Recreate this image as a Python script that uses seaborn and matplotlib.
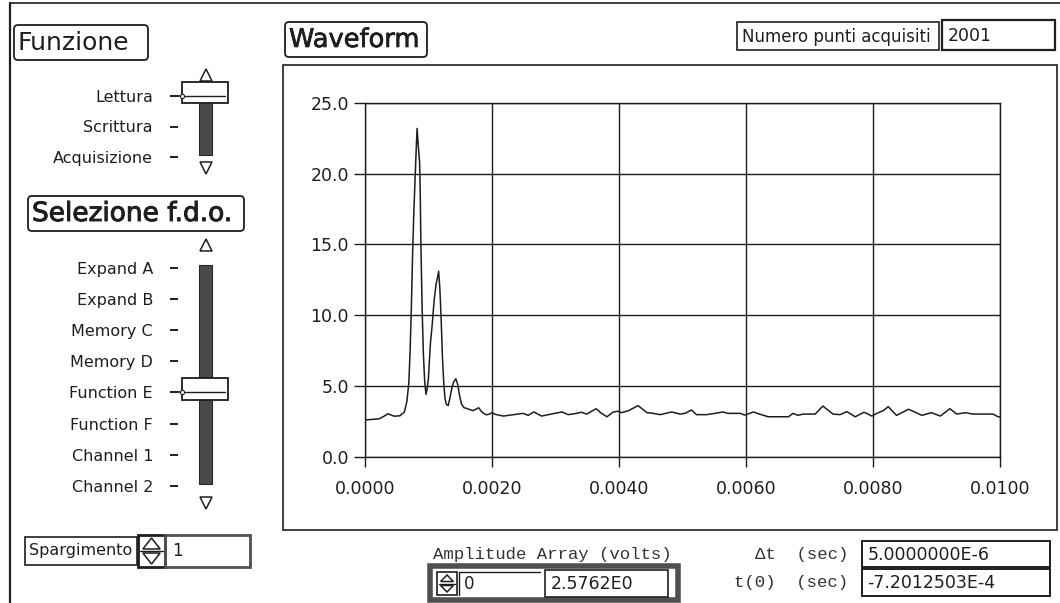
import matplotlib
matplotlib.use("Agg")
import matplotlib.pyplot as plt
from matplotlib.patches import Rectangle, FancyBboxPatch, Polygon
from matplotlib.ticker import FormatStrFormatter
import matplotlib.patheffects as pe
import pandas as pd
import seaborn as sns

# ---- acquired waveform (time in seconds, amplitude in volts) ----
time_s = [
    0.00000, 0.00010, 0.00022, 0.00030, 0.00036, 0.00046, 0.00055, 0.00062,
    0.00066, 0.00069, 0.00071, 0.00073, 0.00075, 0.00077, 0.00079, 0.00080,
    0.00082, 0.00084, 0.00086, 0.00087, 0.00088, 0.00090, 0.00092, 0.00094,
    0.00096, 0.00098, 0.00100, 0.00103, 0.00106, 0.00109, 0.00112, 0.00114,
    0.00116, 0.00118, 0.00120, 0.00122, 0.00124, 0.00126, 0.00128, 0.00131,
    0.00134, 0.00137, 0.00140, 0.00143, 0.00146, 0.00149, 0.00152, 0.00156,
    0.00160, 0.00166, 0.00170, 0.00175, 0.00179, 0.00183, 0.00187, 0.00191,
    0.00196, 0.00200, 0.00205, 0.00218, 0.00234, 0.00249, 0.00257, 0.00266,
    0.00278, 0.00291, 0.00310, 0.00320, 0.00333, 0.00341, 0.00349, 0.00364,
    0.00371, 0.00381, 0.00391, 0.00399, 0.00404, 0.00415, 0.00430, 0.00444,
    0.00454, 0.00465, 0.00483, 0.00496, 0.00504, 0.00514, 0.00522, 0.00538,
    0.00551, 0.00563, 0.00572, 0.00591, 0.00598, 0.00612, 0.00619, 0.00635,
    0.00667, 0.00674, 0.00682, 0.00690, 0.00709, 0.00721, 0.00737, 0.00748,
    0.00759, 0.00772, 0.00786, 0.00793, 0.00798, 0.00806, 0.00816, 0.00824,
    0.00837, 0.00856, 0.00877, 0.00892, 0.00906, 0.00921, 0.00932, 0.00945,
    0.00958, 0.00989, 0.00997, 0.01000,
]
volts = [
    2.58, 2.62, 2.66, 2.85, 3.02, 2.85, 2.88, 3.15,
    3.90, 5.20, 7.40, 10.50, 14.40, 17.40, 19.80, 21.00,
    23.20, 21.90, 20.80, 18.60, 15.10, 10.40, 7.20, 5.30,
    4.40, 4.80, 5.60, 8.00, 9.40, 11.10, 12.20, 12.60,
    13.10, 11.80, 9.60, 7.00, 5.20, 4.10, 3.70, 3.60,
    4.20, 4.90, 5.30, 5.50, 5.10, 4.30, 3.70, 3.45,
    3.40, 3.30, 3.25, 3.35, 3.45, 3.20, 3.05, 2.95,
    3.00, 3.10, 2.98, 2.86, 2.96, 3.05, 2.91, 3.15,
    2.86, 2.98, 3.15, 2.96, 3.05, 3.13, 3.00, 3.38,
    3.10, 2.81, 3.15, 3.20, 3.10, 3.24, 3.60, 3.10,
    3.05, 2.96, 3.15, 3.00, 3.05, 3.29, 2.96, 2.96,
    3.05, 3.15, 3.05, 3.05, 2.93, 3.15, 3.03, 2.81,
    2.81, 3.05, 2.91, 3.00, 3.00, 3.57, 3.00, 2.96,
    3.17, 2.81, 3.13, 2.98, 2.86, 3.05, 3.24, 3.52,
    2.91, 3.34, 2.91, 3.10, 2.86, 3.38, 3.00, 3.10,
    3.00, 3.00, 2.81, 2.80,
]

x_ticks = [0.0, 0.002, 0.004, 0.006, 0.008, 0.010]
y_ticks = [0.0, 5.0, 10.0, 15.0, 20.0, 25.0]

# ---- front-panel controls ----
funzione_options = ["Lettura", "Scrittura", "Acquisizione"]
funzione_selected = 0
fdo_options = ["Expand A", "Expand B", "Memory C", "Memory D",
               "Function E", "Function F", "Channel 1", "Channel 2"]
fdo_selected = 4

n_points = "2001"
spargimento = "1"
array_index = "0"
array_value = "2.5762E0"
delta_t = "5.0000000E-6"
t_zero = "-7.2012503E-4"

W, H = 1060, 603
INK = "#1e1e1e"
GREY = "#505050"

sns.set_theme(style="white")
plt.rcParams["font.family"] = ["DejaVu Sans"]
plt.rcParams["text.color"] = INK

fig = plt.figure(figsize=(W / 100, H / 100), dpi=100)
fig.patch.set_facecolor("white")


def frac(x0, y0, x1, y1):
    return [x0 / W, 1 - y1 / H, (x1 - x0) / W, (y1 - y0) / H]


# panel canvas in pixel units (y grows downward)
panel = fig.add_axes([0, 0, 1, 1])
panel.set_xlim(0, W)
panel.set_ylim(H, 0)
panel.axis("off")


def rect(x0, y0, x1, y1, lw=1.2, ec=INK, fc="none", z=2):
    panel.add_patch(Rectangle((x0, y0), x1 - x0, y1 - y0, lw=lw, ec=ec, fc=fc, zorder=z))


def rounded(x0, y0, x1, y1, lw=1.3):
    panel.add_patch(FancyBboxPatch((x0, y0), x1 - x0, y1 - y0,
                                   boxstyle="round,pad=0,rounding_size=4",
                                   lw=lw, ec=INK, fc="white", zorder=2))


def spinner(x0, y0, x1, y1, lw=1.2):
    rect(x0, y0, x1, y1, lw=lw)
    xm = (x0 + x1) / 2
    ym = (y0 + y1) / 2
    hw = (x1 - x0) * 0.32
    panel.plot([x0 + 2, x1 - 2], [ym, ym], color=INK, lw=1)
    panel.add_patch(Polygon([[xm - hw, ym - 2], [xm + hw, ym - 2], [xm, y0 + 3]],
                            closed=True, fc="white", ec=INK, lw=1.1, zorder=3))
    panel.add_patch(Polygon([[xm - hw, ym + 2], [xm + hw, ym + 2], [xm, y1 - 3]],
                            closed=True, fc="white", ec=INK, lw=1.1, zorder=3))


# outer panel edges
panel.plot([10, 10], [3, H], color=INK, lw=1.6)
panel.plot([10, W], [3, 3], color=INK, lw=1.2)

# titled labels
rounded(14, 25, 148, 60)
panel.text(18, 43, "Funzione", fontsize=18, va="center", ha="left")
rounded(28, 196, 244, 231)
panel.text(32, 214, "Selezione f.d.o.", fontsize=19, va="center", ha="left",
           path_effects=[pe.withStroke(linewidth=0.7, foreground=INK)])
rounded(285, 22, 427, 57)
panel.text(289, 40, "Waveform", fontsize=18.5, va="center", ha="left",
           path_effects=[pe.withStroke(linewidth=0.5, foreground=INK)])

# acquired points indicator
rect(737, 22, 939, 50)
panel.text(742, 37, "Numero punti acquisiti", fontsize=12, va="center")
rect(942, 20, 1055, 50, lw=1.6)
panel.text(948, 36, n_points, fontsize=12.5, va="center")

# graph container
rect(283, 65, 1057, 530, lw=1.2)

# Spargimento numeric control
rect(25, 537, 137, 565)
panel.text(29, 551, "Spargimento", fontsize=11.5, va="center")
spinner(138, 535, 165, 567, lw=2)
rect(165, 535, 250, 567, lw=2, ec=GREY)
panel.text(172, 551, spargimento, fontsize=12, va="center")

# amplitude array
mono = ["Liberation Mono", "DejaVu Sans Mono"]
panel.text(433, 554, "Amplitude Array (volts)", fontsize=12.5, va="center",
           family=mono, color="#333333")
rect(430, 566, 678, 600, lw=4, ec=GREY, fc="white")
spinner(437, 572, 457, 595)
panel.plot([459, 459, 540], [595, 572, 572], color=INK, lw=1)
panel.text(464, 584, array_index, fontsize=12, va="center")
rect(545, 570, 668, 597, lw=1.2)
panel.text(551, 584, array_value, fontsize=12.5, va="center")

# timing indicators
panel.text(848, 554, "\u0394t  (sec)", fontsize=12.5, va="center", ha="right",
           family=mono, color="#333333")
panel.text(848, 583, "t(0)  (sec)", fontsize=12.5, va="center", ha="right",
           family=mono, color="#333333")
rect(862, 541, 1050, 567, lw=1.4)
panel.text(868, 555, delta_t, fontsize=12.5, va="center")
rect(862, 569, 1050, 596, lw=1.4)
panel.text(867, 583, t_zero, fontsize=12.5, va="center")


# ---- ring sliders: one axes each, options on the y axis ----
def slider(options, selected, first_px, spacing, top_px, bottom_px,
           track_from, track_to, up_at, down_at):
    ax_s = fig.add_axes(frac(178, top_px, 236, bottom_px))
    ax_s.set_xlim(178, 236)
    ax_s.set_ylim((bottom_px - first_px) / spacing, (top_px - first_px) / spacing)
    ax_s.patch.set_alpha(0)
    for s in ax_s.spines.values():
        s.set_visible(False)
    ax_s.set_xticks([])
    ax_s.set_yticks(range(len(options)))
    ax_s.set_yticklabels(options)
    ax_s.tick_params(axis="y", left=True, direction="out", length=6, width=1.4,
                     pad=12, labelsize=11.5, colors=INK)
    # track
    ax_s.add_patch(Rectangle((199, track_from), 13, track_to - track_from,
                             fc="#4a4a4a", ec="#2a2a2a", lw=0.8, zorder=2))
    # arrows
    ax_s.plot([205.5], [up_at], marker="^", ms=8, mfc="white", mec=INK, mew=1.1, zorder=4)
    ax_s.plot([205.5], [down_at], marker="v", ms=8, mfc="white", mec=INK, mew=1.1, zorder=4)
    # thumb
    ax_s.add_patch(Rectangle((182, selected - 0.45), 46, 0.68,
                             fc="white", ec=INK, lw=1.3, zorder=3))
    ax_s.plot([185, 225], [selected, selected], color=INK, lw=1.0, zorder=4)
    ax_s.plot([178, 184], [selected, selected], color=INK, lw=1.2, zorder=4,
              clip_on=False)
    ax_s.plot([182], [selected], marker="o", ms=3, mfc="white", mec=INK, mew=0.8,
              zorder=5)
    return ax_s


slider(funzione_options, funzione_selected, 96, 30.5, 66, 176,
       -0.35, 1.95, -0.69, 2.36)
slider(fdo_options, fdo_selected, 268, 31.1, 236, 512,
       -0.1, 6.95, -0.74, 7.56)

# ---- waveform graph ----
ax = fig.add_axes(frac(365, 103, 1000, 456.5))
ax.set_facecolor("white")
df = pd.DataFrame({"t": time_s, "v": volts})
sns.lineplot(data=df, x="t", y="v", ax=ax, color=INK, linewidth=1.1,
             sort=False, estimator=None, zorder=3)
ax.set_xlim(0, 0.01)
ax.set_ylim(0, 25)
ax.set_xticks(x_ticks)
ax.set_yticks(y_ticks)
ax.xaxis.set_major_formatter(FormatStrFormatter("%.4f"))
ax.yaxis.set_major_formatter(FormatStrFormatter("%.1f"))
ax.grid(True, color=INK, linewidth=1.0, zorder=1)
ax.set_axisbelow(True)
for s in ax.spines.values():
    s.set_visible(True)
    s.set_color(INK)
    s.set_linewidth(1.0)
ax.tick_params(axis="x", bottom=True, direction="out", length=7, width=1.0,
               pad=10, labelsize=12.5, colors=INK)
ax.tick_params(axis="y", left=True, direction="out", length=8, width=1.0,
               pad=3.6, labelsize=12.5, colors=INK)
ax.set_xlabel("")
ax.set_ylabel("")

fig.savefig("out.png", dpi=100, facecolor="white")
